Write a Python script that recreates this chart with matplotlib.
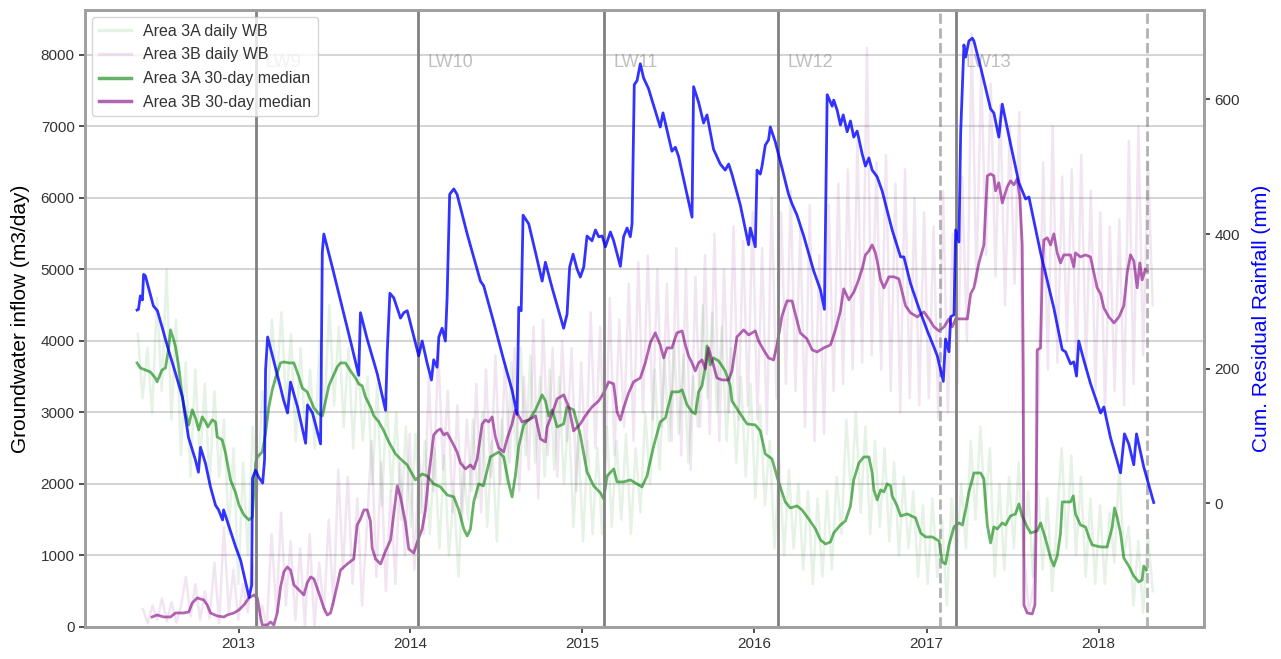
import matplotlib
matplotlib.use('Agg')
import matplotlib.pyplot as plt
import matplotlib.dates as mdates
import numpy as np
import pandas as pd
from datetime import datetime, timedelta

plt.rcParams['font.family'] = ['Liberation Sans', 'DejaVu Sans']

# cumulative residual rainfall (mm), time as decimal year
rain_t = [2012.411, 2012.419, 2012.430, 2012.442, 2012.449, 2012.459, 2012.506, 2012.529, 2012.558, 2012.593,
          2012.634, 2012.674, 2012.709, 2012.750, 2012.767, 2012.779, 2012.808, 2012.837, 2012.866, 2012.884,
          2012.907, 2012.913, 2012.942, 2012.983, 2013.012, 2013.061, 2013.076, 2013.081, 2013.099, 2013.116,
          2013.140, 2013.151, 2013.157, 2013.169, 2013.203, 2013.244, 2013.262, 2013.285, 2013.302, 2013.343,
          2013.390, 2013.401, 2013.430, 2013.477, 2013.487, 2013.496, 2013.545, 2013.603, 2013.651, 2013.699,
          2013.709, 2013.748, 2013.806, 2013.855, 2013.865, 2013.880, 2013.903, 2013.942, 2013.961, 2013.981,
          2014.010, 2014.048, 2014.068, 2014.097, 2014.122, 2014.135, 2014.155, 2014.165, 2014.184, 2014.203,
          2014.213, 2014.228, 2014.252, 2014.271, 2014.330, 2014.407, 2014.426, 2014.484, 2014.542, 2014.591,
          2014.620, 2014.630, 2014.644, 2014.655, 2014.688, 2014.727, 2014.766, 2014.785, 2014.824, 2014.862,
          2014.891, 2014.911, 2014.926, 2014.946, 2014.969, 2014.988, 2015.008, 2015.027, 2015.056, 2015.076,
          2015.095, 2015.115, 2015.134, 2015.163, 2015.182, 2015.221, 2015.240, 2015.260, 2015.279, 2015.289,
          2015.302, 2015.318, 2015.337, 2015.356, 2015.385, 2015.405, 2015.453, 2015.469, 2015.521, 2015.541,
          2015.560, 2015.599, 2015.638, 2015.647, 2015.676, 2015.705, 2015.725, 2015.763, 2015.802, 2015.831,
          2015.851, 2015.870, 2015.919, 2015.967, 2015.977, 2016.006, 2016.016, 2016.035, 2016.045, 2016.064,
          2016.083, 2016.093, 2016.122, 2016.161, 2016.199, 2016.219, 2016.248, 2016.287, 2016.345, 2016.384,
          2016.407, 2016.423, 2016.432, 2016.452, 2016.461, 2016.481, 2016.500, 2016.516, 2016.539, 2016.558,
          2016.577, 2016.597, 2016.626, 2016.645, 2016.665, 2016.684, 2016.713, 2016.742, 2016.800, 2016.849,
          2016.868, 2016.907, 2016.955, 2017.004, 2017.033, 2017.062, 2017.097, 2017.110, 2017.130, 2017.140,
          2017.159, 2017.169, 2017.188, 2017.198, 2017.217, 2017.227, 2017.246, 2017.266, 2017.275, 2017.314,
          2017.372, 2017.391, 2017.420, 2017.440, 2017.488, 2017.537, 2017.576, 2017.595, 2017.663, 2017.740,
          2017.789, 2017.808, 2017.837, 2017.856, 2017.872, 2017.885, 2017.914, 2017.953, 2018.012, 2018.031,
          2018.070, 2018.128, 2018.151, 2018.176, 2018.205, 2018.221, 2018.263, 2018.321]
rain_mm = [287, 288, 308, 302, 340, 338, 293, 286, 260, 228,
           193, 158, 98, 64, 46, 83, 59, 24, -3, -10,
           -25, -10, -33, -65, -85, -140, -122, 37, 49, 39,
           30, 64, 198, 247, 213, 172, 153, 134, 180, 143,
           89, 146, 134, 88, 373, 400, 351, 291, 241, 190,
           283, 244, 193, 138, 225, 312, 305, 275, 283, 286,
           257, 219, 241, 208, 183, 213, 202, 247, 260, 241,
           305, 459, 467, 459, 400, 330, 323, 269, 213, 168,
           132, 291, 286, 428, 415, 373, 330, 358, 320, 286,
           260, 281, 351, 370, 348, 336, 351, 397, 390, 406,
           396, 397, 381, 403, 390, 352, 396, 409, 396, 415,
           622, 628, 653, 632, 616, 599, 559, 580, 523, 529,
           515, 470, 425, 619, 596, 565, 577, 526, 504, 495,
           504, 489, 443, 384, 409, 381, 495, 489, 501, 532,
           540, 559, 537, 498, 459, 445, 428, 397, 345, 317,
           288, 607, 602, 590, 599, 584, 562, 577, 552, 568,
           544, 553, 519, 501, 513, 495, 485, 464, 406, 366,
           366, 326, 290, 256, 238, 219, 181, 244, 225, 277,
           280, 406, 388, 550, 681, 663, 687, 691, 687, 648,
           586, 580, 544, 593, 534, 476, 452, 455, 372, 290,
           228, 225, 207, 210, 189, 241, 213, 178, 134, 143,
           97, 45, 103, 88, 57, 103, 54, 1]

# 30-day median inflow, Area 3A
med3a_t = [2012.411, 2012.430, 2012.459, 2012.488, 2012.517, 2012.527, 2012.556, 2012.576, 2012.595, 2012.605,
           2012.620, 2012.634, 2012.653, 2012.673, 2012.692, 2012.711, 2012.731, 2012.750, 2012.769, 2012.789,
           2012.808, 2012.822, 2012.847, 2012.866, 2012.876, 2012.905, 2012.924, 2012.953, 2012.983, 2013.002,
           2013.031, 2013.060, 2013.080, 2013.099, 2013.109, 2013.138, 2013.157, 2013.176, 2013.196, 2013.215,
           2013.244, 2013.263, 2013.292, 2013.322, 2013.351, 2013.370, 2013.399, 2013.438, 2013.467, 2013.487,
           2013.506, 2013.525, 2013.545, 2013.574, 2013.593, 2013.622, 2013.651, 2013.680, 2013.699, 2013.719,
           2013.738, 2013.767, 2013.787, 2013.816, 2013.845, 2013.874, 2013.913, 2013.942, 2013.981, 2014.029,
           2014.068, 2014.097, 2014.135, 2014.174, 2014.213, 2014.252, 2014.281, 2014.310, 2014.330, 2014.349,
           2014.368, 2014.397, 2014.424, 2014.465, 2014.513, 2014.542, 2014.572, 2014.591, 2014.610, 2014.630,
           2014.659, 2014.698, 2014.727, 2014.766, 2014.785, 2014.804, 2014.824, 2014.853, 2014.891, 2014.911,
           2014.949, 2014.988, 2015.027, 2015.066, 2015.105, 2015.124, 2015.144, 2015.182, 2015.202, 2015.240,
           2015.279, 2015.318, 2015.347, 2015.376, 2015.395, 2015.415, 2015.453, 2015.483, 2015.502, 2015.521,
           2015.560, 2015.580, 2015.609, 2015.638, 2015.657, 2015.676, 2015.696, 2015.715, 2015.725, 2015.744,
           2015.763, 2015.793, 2015.831, 2015.860, 2015.870, 2015.919, 2015.958, 2016.006, 2016.035, 2016.064,
           2016.103, 2016.141, 2016.180, 2016.209, 2016.248, 2016.277, 2016.316, 2016.355, 2016.384, 2016.413,
           2016.442, 2016.461, 2016.500, 2016.529, 2016.558, 2016.577, 2016.607, 2016.636, 2016.665, 2016.684,
           2016.694, 2016.713, 2016.733, 2016.752, 2016.771, 2016.791, 2016.800, 2016.829, 2016.849, 2016.888,
           2016.936, 2016.965, 2016.994, 2017.033, 2017.072, 2017.091, 2017.110, 2017.130, 2017.159, 2017.188,
           2017.208, 2017.227, 2017.246, 2017.275, 2017.314, 2017.333, 2017.353, 2017.372, 2017.391, 2017.411,
           2017.440, 2017.459, 2017.488, 2017.517, 2017.537, 2017.556, 2017.585, 2017.605, 2017.643, 2017.663,
           2017.692, 2017.721, 2017.740, 2017.760, 2017.779, 2017.789, 2017.837, 2017.853, 2017.866, 2017.895,
           2017.924, 2017.944, 2017.963, 2018.012, 2018.050, 2018.080, 2018.093, 2018.109, 2018.128, 2018.147,
           2018.176, 2018.205, 2018.234, 2018.254, 2018.263, 2018.279]
med3a = [3693, 3623, 3595, 3567, 3483, 3428, 3595, 3623, 3917, 4155,
         4043, 3917, 3637, 3218, 2994, 2826, 3036, 2924, 2756, 2938,
         2868, 2798, 2896, 2868, 2658, 2616, 2434, 2057, 1875, 1707,
         1567, 1497, 1539, 2294, 2378, 2448, 2714, 3078, 3316, 3483,
         3693, 3707, 3693, 3693, 3497, 3343, 3288, 3064, 2980, 2952,
         3162, 3372, 3483, 3637, 3693, 3693, 3581, 3483, 3399, 3372,
         3218, 3078, 2952, 2868, 2742, 2588, 2420, 2350, 2266, 2057,
         2140, 2112, 2001, 1959, 1847, 1819, 1637, 1371, 1273, 1371,
         1749, 2001, 1973, 2378, 2448, 2378, 2001, 1819, 2112, 2532,
         2826, 2924, 3036, 3246, 3162, 2952, 3036, 2798, 2840, 3078,
         3036, 2686, 2168, 1973, 1875, 1791, 2112, 2210, 2029, 2029,
         2057, 2001, 1959, 2112, 2322, 2532, 2868, 2924, 3106, 3288,
         3288, 3316, 3106, 3008, 2980, 3288, 3372, 3637, 3931, 3665,
         3763, 3721, 3581, 3372, 3162, 2980, 2840, 2826, 2742, 2420,
         2350, 2029, 1749, 1665, 1693, 1637, 1511, 1371, 1217, 1161,
         1189, 1315, 1427, 1483, 1693, 2057, 2294, 2378, 2378, 2154,
         1917, 1777, 1917, 1889, 2001, 1973, 1833, 1693, 1553, 1581,
         1525, 1315, 1259, 1259, 1203, 909, 881, 1147, 1399, 1455,
         1427, 1637, 1889, 2154, 2154, 2071, 1427, 1175, 1399, 1371,
         1455, 1427, 1553, 1581, 1721, 1553, 1399, 1315, 1343, 1455,
         1231, 965, 853, 993, 1315, 1749, 1749, 1833, 1581, 1427,
         1399, 1259, 1147, 1119, 1119, 1399, 1665, 1525, 1315, 965,
         853, 713, 630, 658, 853, 797]

# 30-day median inflow, Area 3B
med3b_t = [2012.498, 2012.527, 2012.566, 2012.605, 2012.634, 2012.682, 2012.711, 2012.731, 2012.760, 2012.798,
           2012.818, 2012.837, 2012.876, 2012.915, 2012.934, 2012.973, 2013.002, 2013.031, 2013.060, 2013.089,
           2013.109, 2013.128, 2013.138, 2013.167, 2013.186, 2013.205, 2013.225, 2013.244, 2013.263, 2013.283,
           2013.302, 2013.322, 2013.351, 2013.380, 2013.399, 2013.419, 2013.438, 2013.467, 2013.496, 2013.516,
           2013.535, 2013.554, 2013.574, 2013.593, 2013.632, 2013.670, 2013.690, 2013.709, 2013.729, 2013.748,
           2013.767, 2013.777, 2013.797, 2013.826, 2013.855, 2013.884, 2013.903, 2013.923, 2013.942, 2013.971,
           2013.990, 2014.019, 2014.048, 2014.068, 2014.087, 2014.106, 2014.135, 2014.155, 2014.174, 2014.194,
           2014.213, 2014.242, 2014.271, 2014.291, 2014.320, 2014.349, 2014.368, 2014.388, 2014.417, 2014.436,
           2014.455, 2014.475, 2014.494, 2014.513, 2014.542, 2014.562, 2014.591, 2014.610, 2014.630, 2014.649,
           2014.688, 2014.727, 2014.756, 2014.785, 2014.795, 2014.824, 2014.853, 2014.891, 2014.921, 2014.949,
           2014.988, 2015.017, 2015.056, 2015.095, 2015.124, 2015.153, 2015.182, 2015.202, 2015.221, 2015.240,
           2015.269, 2015.298, 2015.337, 2015.366, 2015.395, 2015.424, 2015.453, 2015.473, 2015.492, 2015.521,
           2015.550, 2015.580, 2015.599, 2015.618, 2015.638, 2015.657, 2015.676, 2015.696, 2015.715, 2015.734,
           2015.754, 2015.783, 2015.812, 2015.851, 2015.870, 2015.899, 2015.938, 2015.967, 2016.006, 2016.025,
           2016.054, 2016.083, 2016.112, 2016.132, 2016.161, 2016.190, 2016.219, 2016.238, 2016.267, 2016.306,
           2016.336, 2016.365, 2016.403, 2016.442, 2016.471, 2016.500, 2016.519, 2016.549, 2016.578, 2016.597,
           2016.626, 2016.645, 2016.665, 2016.684, 2016.703, 2016.713, 2016.733, 2016.752, 2016.781, 2016.810,
           2016.839, 2016.858, 2016.878, 2016.907, 2016.946, 2016.984, 2017.014, 2017.043, 2017.072, 2017.101,
           2017.130, 2017.149, 2017.169, 2017.208, 2017.237, 2017.256, 2017.275, 2017.304, 2017.333, 2017.353,
           2017.372, 2017.391, 2017.401, 2017.420, 2017.440, 2017.469, 2017.488, 2017.508, 2017.527, 2017.542,
           2017.556, 2017.562, 2017.566, 2017.585, 2017.614, 2017.630, 2017.637, 2017.643, 2017.663, 2017.673,
           2017.682, 2017.702, 2017.721, 2017.740, 2017.760, 2017.779, 2017.798, 2017.837, 2017.856, 2017.866,
           2017.895, 2017.924, 2017.953, 2017.973, 2017.992, 2018.012, 2018.031, 2018.060, 2018.090, 2018.119,
           2018.147, 2018.167, 2018.186, 2018.205, 2018.225, 2018.240, 2018.254, 2018.273, 2018.283]
med3b = [140, 168, 140, 140, 196, 196, 210, 336, 406, 378,
         308, 196, 154, 140, 168, 196, 238, 308, 406, 448,
         406, 140, 28, 28, 70, 28, 196, 560, 769, 839,
         797, 588, 518, 448, 616, 700, 672, 476, 266, 168,
         196, 378, 588, 797, 881, 951, 1427, 1511, 1637, 1637,
         1483, 1105, 951, 881, 1063, 1217, 1581, 1973, 1819, 1455,
         1091, 1035, 1245, 1371, 1637, 2112, 2686, 2742, 2770, 2686,
         2714, 2588, 2448, 2294, 2210, 2266, 2210, 2350, 2840, 2896,
         2868, 2938, 2658, 2504, 2448, 2630, 2840, 3036, 2952, 2868,
         2896, 2952, 2630, 2588, 2798, 2980, 3190, 3246, 3078, 2742,
         2840, 2952, 3078, 3162, 3274, 3428, 3399, 3008, 2896, 3064,
         3274, 3428, 3483, 3693, 3973, 4113, 3945, 3763, 3903, 3903,
         4113, 4141, 3945, 3791, 3693, 3581, 3693, 3735, 3609, 3903,
         3735, 3483, 3455, 3455, 3581, 4057, 4155, 4085, 4141, 4001,
         3875, 3763, 3735, 3945, 4351, 4561, 4561, 4379, 4113, 4029,
         3875, 3847, 3903, 3945, 4155, 4421, 4729, 4575, 4687, 4799,
         5008, 5204, 5260, 5344, 5232, 5120, 4855, 4743, 4897, 4897,
         4869, 4687, 4491, 4393, 4337, 4407, 4309, 4197, 4141, 4197,
         4309, 4197, 4309, 4309, 4309, 4659, 4743, 5092, 5344, 6309,
         6337, 6309, 6100, 6212, 5932, 6156, 6240, 6184, 6268, 6016,
         5344, 3595, 308, 196, 182, 308, 1427, 3875, 3903, 5008,
         5414, 5442, 5344, 5498, 5232, 5092, 5204, 5204, 5036, 5232,
         5176, 5204, 5176, 4952, 4743, 4659, 4463, 4337, 4253, 4337,
         4491, 4952, 5204, 5120, 4743, 5092, 4855, 5008, 4980]

# daily water balance inflow, sampled about every 10 days (m3/day)
daily3a = [4100, 3200, 3900, 3000, 4600, 3300, 5000, 2900, 4300, 2400, 3700, 2100,
           3600, 2300, 3400, 2000, 3300, 2100, 2900, 1300, 2500,
           600, 2300, 1000, 2800, 1900, 3300, 2900, 4300, 3400, 4400, 3100, 4100,
           2600, 3900, 2700, 3600, 2500, 4000, 3000, 4500, 3100, 4200, 2800, 3900,
           2500, 3800, 2600, 3500, 2000, 3400, 1700, 3200, 1900, 3000, 1500, 2800,
           1400, 2700, 1600, 2600, 1300, 2500, 1100, 2400, 1000, 1900, 700, 2300,
           1500, 2900, 1800, 3000, 1400, 2600, 1200, 2900, 2000, 3700, 2300, 3900,
           2400, 3800, 2300, 3500, 2100, 3600, 2200, 3500, 2000, 3000, 1400, 2700,
           1200, 2600, 1300, 2500, 1300, 2800, 1400, 2600, 1500, 2700, 1300, 2500,
           1600, 3000, 2000, 3600, 2200, 3800, 2600, 4000, 2700, 3800, 2300, 3500,
           2800, 4500, 3200, 4400, 3000, 4200, 2600, 3900, 2300, 3500, 2100, 3400,
           1800, 3100, 1700, 2600, 1100, 2300, 1000, 2200, 1100, 2000, 800, 1900,
           600, 1800, 700, 1900, 800, 2100, 1300, 2900, 1800, 3000, 1600, 2800,
           1300, 2600, 1400, 2500, 1200, 2300, 1000, 2100, 1100, 1900, 700, 1700,
           600, 1800, 700, 1500, 300, 1800, 900, 2000, 1100, 2600, 1500, 2800,
           1600, 2500, 700, 2000, 800, 2100, 1100, 2300, 1000, 1900, 700, 2000,
           800, 1800, 500, 1500, 2500, 1100, 2400, 1000, 2100, 700, 1800, 600,
           1700, 600, 1600, 900, 2200, 1000, 1400, 300, 1200, 200, 1300, 500]
daily3b = [250, 50, 300, 100, 400, 80, 350, 60, 300, 700, 150, 600,
           100, 500, 120, 900, 50, 1400, 200, 800, 100,
           600, 200, 900, 0, 300, 0, 1300, 200, 1600, 300, 1200, 100,
           1100, 0, 1300, 0, 900, 200, 1500, 300, 2200, 800, 2100, 600,
           1800, 300, 1400, 2600, 700, 2300, 500, 1900, 600, 2300, 1000, 2700,
           800, 2400, 1300, 3500, 1900, 3900, 2200, 3300, 1600, 3100, 1500, 2900,
           1900, 3400, 1600, 3600, 2100, 3800, 2000, 3700, 2300, 3900, 1900, 3500,
           2200, 4200, 1800, 4300, 2400, 3900, 2100, 4000, 2600, 3900, 1900, 3700,
           2300, 4400, 2500, 4200, 2000, 4600, 2400, 4300, 2800, 4800, 2600, 5100,
           3000, 5200, 2900, 5000, 2800, 4800, 2600, 5300, 2400, 5000, 2200, 4900,
           2800, 5200, 2700, 5500, 2600, 5000, 3000, 5600, 2900, 5400, 3100, 5800,
           2900, 5300, 2700, 6000, 3200, 5800, 3400, 6100, 3300, 5600, 2800, 5900,
           2600, 5200, 2700, 5900, 3300, 6200, 3400, 6400, 3600, 6800, 3700, 8100,
           3800, 6500, 3600, 6600, 3300, 6200, 3000, 6400, 3200, 6000, 3100, 5800,
           3200, 5600, 2900, 6100, 3000, 5500, 3400, 6300, 4000, 8300, 4800, 7800,
           5200, 7600, 4900, 7300, 4500, 7000, 4800, 7200, 1000, 200, 600, 3200,
           6500, 3600, 7000, 3700, 6300, 4000, 6400, 3500, 6600, 3600, 6100, 3300,
           5800, 3000, 5600, 3300, 5700, 3100, 6800, 3400, 7000, 3800, 6500, 4500]

# longwall panel start dates
lw_names = ['LW9', 'LW10', 'LW11', 'LW12', 'LW13']
lw_start = ['2013-02-08', '2014-01-18', '2015-02-16', '2016-02-21', '2017-03-04']
dashed_dates = ['2017-01-29', '2018-04-15']


def to_dates(years):
    out = []
    for y in years:
        yr = int(y)
        start = datetime(yr, 1, 1)
        ndays = (datetime(yr + 1, 1, 1) - start).days
        out.append(start + timedelta(days=(y - yr) * ndays))
    return out


daily3a_t = pd.date_range('2012-06-01', '2018-04-26', periods=len(daily3a))
daily3b_t = pd.date_range('2012-06-12', '2018-04-26', periods=len(daily3b))

fig = plt.figure(figsize=(12.81, 6.59), dpi=100)
ax1 = fig.add_axes([0.0664, 0.0486, 0.8735, 0.9363])

ax1.plot(daily3a_t, daily3a, color='green', alpha=0.1, lw=1.8, label='Area 3A daily WB')
ax1.plot(daily3b_t, daily3b, color='purple', alpha=0.1, lw=1.8, label='Area 3B daily WB')
ax1.plot(to_dates(med3a_t), med3a, color='green', alpha=0.6, lw=2, label='Area 3A 30-day median')
ax1.plot(to_dates(med3b_t), med3b, color='purple', alpha=0.6, lw=2, label='Area 3B 30-day median')

for name, d in zip(lw_names, lw_start):
    d = pd.Timestamp(d)
    ax1.axvline(d, color='gray', lw=2)
    ax1.text(d + pd.Timedelta(days=20), 7900, name, color='gray', alpha=0.5,
             fontsize=13, va='center')
for d in dashed_dates:
    ax1.axvline(pd.Timestamp(d), color='gray', lw=2, ls='--', alpha=0.6)

ax1.set_ylim(0, 8630)
ax1.set_xlim(pd.Timestamp('2012-02-10'), pd.Timestamp('2018-08-13'))
ax1.set_ylabel('Groundwater inflow (m3/day)', fontsize=15, color='black', labelpad=8)
ax1.xaxis.set_major_locator(mdates.YearLocator())
ax1.xaxis.set_major_formatter(mdates.DateFormatter('%Y'))
ax1.grid(axis='y', color='#d5d5d5', lw=1.5)
ax1.set_axisbelow(True)

leg = ax1.legend(loc='upper left', fontsize=11.5, framealpha=0.8, edgecolor='#cccccc',
                 fancybox=True, labelspacing=0.55, borderaxespad=0.45)
for line in leg.get_lines():
    line.set_linewidth(2.5)
for txt in leg.get_texts():
    txt.set_color('#333333')

ax2 = ax1.twinx()
ax2.plot(to_dates(rain_t), rain_mm, color='blue', alpha=0.8, lw=2)
ax2.set_ylim(-184, 733)
ax2.set_yticks([0, 200, 400, 600])
ax2.set_ylabel('Cum. Residual Rainfall (mm)', fontsize=15, color='blue', labelpad=9)

for ax in (ax1, ax2):
    for sp in ax.spines.values():
        sp.set_color('#a0a0a0')
        sp.set_linewidth(2)
    ax.tick_params(labelsize=11, labelcolor='#333333', color='#333333', length=4, width=1.2)

fig.savefig('out.png', dpi=100)
